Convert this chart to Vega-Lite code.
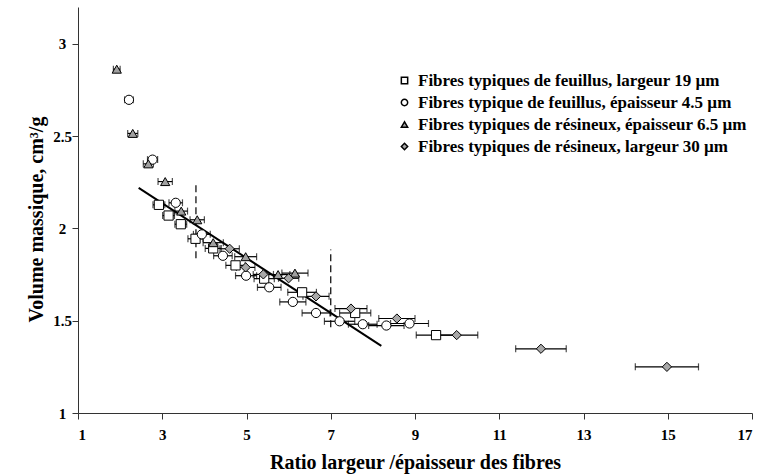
{
  "$schema": "https://vega.github.io/schema/vega-lite/v6.json",
  "width": 674,
  "height": 406,
  "autosize": {"type": "none"},
  "padding": {"left": 78, "top": 7, "right": 7, "bottom": 62},
  "background": "white",
  "config": {
    "view": {"stroke": null},
    "font": "Liberation Serif",
    "axis": {"grid": false, "domainColor": "#333", "tickColor": "#333", "labelFont": "Liberation Serif", "labelFontWeight": "bold", "labelFontSize": 15, "labelColor": "black", "titleFont": "Liberation Serif", "titleFontWeight": "bold", "titleFontSize": 20, "titleColor": "black", "tickSize": 6}
  },
  "datasets": {
    "pts": [
      {"serie": "Fibres typiques de feuillus, largeur 19 µm", "ratio": 2.92, "volume": 2.128, "lo": 2.78, "hi": 3.06},
      {"serie": "Fibres typiques de feuillus, largeur 19 µm", "ratio": 3.15, "volume": 2.07, "lo": 3.01, "hi": 3.29},
      {"serie": "Fibres typiques de feuillus, largeur 19 µm", "ratio": 3.44, "volume": 2.023, "lo": 3.30, "hi": 3.58},
      {"serie": "Fibres typiques de feuillus, largeur 19 µm", "ratio": 3.79, "volume": 1.944, "lo": 3.61, "hi": 3.97},
      {"serie": "Fibres typiques de feuillus, largeur 19 µm", "ratio": 4.21, "volume": 1.892, "lo": 4.02, "hi": 4.40},
      {"serie": "Fibres typiques de feuillus, largeur 19 µm", "ratio": 4.74, "volume": 1.80, "lo": 4.51, "hi": 4.97},
      {"serie": "Fibres typiques de feuillus, largeur 19 µm", "ratio": 5.42, "volume": 1.728, "lo": 5.18, "hi": 5.66},
      {"serie": "Fibres typiques de feuillus, largeur 19 µm", "ratio": 6.32, "volume": 1.654, "lo": 5.98, "hi": 6.66},
      {"serie": "Fibres typiques de feuillus, largeur 19 µm", "ratio": 7.58, "volume": 1.542, "lo": 7.21, "hi": 7.95},
      {"serie": "Fibres typiques de feuillus, largeur 19 µm", "ratio": 9.50, "volume": 1.422, "lo": 9.03, "hi": 9.97},
      {"serie": "Fibres typique de feuillus, épaisseur 4.5 µm", "ratio": 2.21, "volume": 2.697, "lo": 2.11, "hi": 2.31},
      {"serie": "Fibres typique de feuillus, épaisseur 4.5 µm", "ratio": 2.77, "volume": 2.373, "lo": 2.65, "hi": 2.89},
      {"serie": "Fibres typique de feuillus, épaisseur 4.5 µm", "ratio": 3.32, "volume": 2.139, "lo": 3.16, "hi": 3.48},
      {"serie": "Fibres typique de feuillus, épaisseur 4.5 µm", "ratio": 3.94, "volume": 1.968, "lo": 3.74, "hi": 4.14},
      {"serie": "Fibres typique de feuillus, épaisseur 4.5 µm", "ratio": 4.44, "volume": 1.852, "lo": 4.22, "hi": 4.66},
      {"serie": "Fibres typique de feuillus, épaisseur 4.5 µm", "ratio": 4.99, "volume": 1.744, "lo": 4.74, "hi": 5.24},
      {"serie": "Fibres typique de feuillus, épaisseur 4.5 µm", "ratio": 5.54, "volume": 1.681, "lo": 5.26, "hi": 5.82},
      {"serie": "Fibres typique de feuillus, épaisseur 4.5 µm", "ratio": 6.10, "volume": 1.602, "lo": 5.79, "hi": 6.41},
      {"serie": "Fibres typique de feuillus, épaisseur 4.5 µm", "ratio": 6.65, "volume": 1.542, "lo": 6.32, "hi": 6.98},
      {"serie": "Fibres typique de feuillus, épaisseur 4.5 µm", "ratio": 7.21, "volume": 1.497, "lo": 6.85, "hi": 7.57},
      {"serie": "Fibres typique de feuillus, épaisseur 4.5 µm", "ratio": 7.76, "volume": 1.481, "lo": 7.42, "hi": 8.10},
      {"serie": "Fibres typique de feuillus, épaisseur 4.5 µm", "ratio": 8.32, "volume": 1.474, "lo": 7.90, "hi": 8.74},
      {"serie": "Fibres typique de feuillus, épaisseur 4.5 µm", "ratio": 8.87, "volume": 1.485, "lo": 8.42, "hi": 9.32},
      {"serie": "Fibres typiques de résineux, épaisseur 6.5 µm", "ratio": 1.92, "volume": 2.863, "lo": 1.84, "hi": 2.00},
      {"serie": "Fibres typiques de résineux, épaisseur 6.5 µm", "ratio": 2.30, "volume": 2.515, "lo": 2.18, "hi": 2.42},
      {"serie": "Fibres typiques de résineux, épaisseur 6.5 µm", "ratio": 2.67, "volume": 2.35, "lo": 2.55, "hi": 2.79},
      {"serie": "Fibres typiques de résineux, épaisseur 6.5 µm", "ratio": 3.07, "volume": 2.254, "lo": 2.90, "hi": 3.24},
      {"serie": "Fibres typiques de résineux, épaisseur 6.5 µm", "ratio": 3.45, "volume": 2.094, "lo": 3.30, "hi": 3.60},
      {"serie": "Fibres typiques de résineux, épaisseur 6.5 µm", "ratio": 3.83, "volume": 2.047, "lo": 3.66, "hi": 4.00},
      {"serie": "Fibres typiques de résineux, épaisseur 6.5 µm", "ratio": 4.21, "volume": 1.923, "lo": 3.97, "hi": 4.45},
      {"serie": "Fibres typiques de résineux, épaisseur 6.5 µm", "ratio": 4.98, "volume": 1.847, "lo": 4.72, "hi": 5.24},
      {"serie": "Fibres typiques de résineux, épaisseur 6.5 µm", "ratio": 5.75, "volume": 1.75, "lo": 5.47, "hi": 6.03},
      {"serie": "Fibres typiques de résineux, épaisseur 6.5 µm", "ratio": 6.15, "volume": 1.758, "lo": 5.84, "hi": 6.46},
      {"serie": "Fibres typiques de résineux, largeur 30 µm", "ratio": 4.60, "volume": 1.890, "lo": 4.37, "hi": 4.83},
      {"serie": "Fibres typiques de résineux, largeur 30 µm", "ratio": 4.98, "volume": 1.789, "lo": 4.76, "hi": 5.20},
      {"serie": "Fibres typiques de résineux, largeur 30 µm", "ratio": 5.40, "volume": 1.751, "lo": 5.16, "hi": 5.64},
      {"serie": "Fibres typiques de résineux, largeur 30 µm", "ratio": 6.00, "volume": 1.73, "lo": 5.76, "hi": 6.24},
      {"serie": "Fibres typiques de résineux, largeur 30 µm", "ratio": 6.65, "volume": 1.632, "lo": 6.34, "hi": 6.96},
      {"serie": "Fibres typiques de résineux, largeur 30 µm", "ratio": 7.48, "volume": 1.566, "lo": 7.10, "hi": 7.86},
      {"serie": "Fibres typiques de résineux, largeur 30 µm", "ratio": 8.57, "volume": 1.512, "lo": 8.14, "hi": 9.00},
      {"serie": "Fibres typiques de résineux, largeur 30 µm", "ratio": 9.99, "volume": 1.422, "lo": 9.49, "hi": 10.49},
      {"serie": "Fibres typiques de résineux, largeur 30 µm", "ratio": 11.99, "volume": 1.348, "lo": 11.39, "hi": 12.59},
      {"serie": "Fibres typiques de résineux, largeur 30 µm", "ratio": 14.98, "volume": 1.25, "lo": 14.23, "hi": 15.73}
    ],
    "fit": [
      {"ratio": 2.44, "volume": 2.22},
      {"ratio": 8.2, "volume": 1.364}
    ],
    "limits": [
      {"ratio": 3.8, "ylo": 1.838, "yhi": 2.254},
      {"ratio": 7.0, "ylo": 1.465, "yhi": 1.886}
    ]
  },
  "layer": [
    {
      "data": {"name": "limits"},
      "mark": {"type": "rule", "color": "black", "strokeWidth": 1.2, "strokeDash": [7, 4]},
      "encoding": {
        "x": {"field": "ratio", "type": "quantitative", "title": "Ratio largeur /épaisseur des fibres", "scale": {"domain": [1, 17], "nice": false}},
        "y": {"field": "ylo", "type": "quantitative", "title": "Volume massique, cm³/g", "scale": {"domain": [1, 3.2], "nice": false}},
        "y2": {"field": "yhi"}
      }
    },
    {
      "data": {"name": "fit"},
      "mark": {"type": "line", "color": "black", "strokeWidth": 2},
      "encoding": {
        "x": {"field": "ratio", "type": "quantitative", "title": "Ratio largeur /épaisseur des fibres"},
        "y": {"field": "volume", "type": "quantitative", "title": "Volume massique, cm³/g"}
      }
    },
    {
      "data": {"name": "pts"},
      "mark": {"type": "errorbar", "color": "black", "ticks": {"size": 7, "thickness": 1.2}, "rule": {"strokeWidth": 1.2}},
      "encoding": {
        "x": {"field": "lo", "type": "quantitative", "title": "Ratio largeur /épaisseur des fibres"},
        "x2": {"field": "hi"},
        "y": {"field": "volume", "type": "quantitative", "title": "Volume massique, cm³/g"}
      }
    },
    {
      "data": {"name": "pts"},
      "mark": {"type": "point", "filled": true, "stroke": "black", "strokeWidth": 1, "size": 85, "opacity": 1},
      "encoding": {
        "x": {
          "field": "ratio", "type": "quantitative", "title": "Ratio largeur /épaisseur des fibres",
          "axis": {"values": [1, 3, 5, 7, 9, 11, 13, 15, 17], "labelPadding": 8, "titleBaseline": "alphabetic", "titleY": 55}
        },
        "y": {
          "field": "volume", "type": "quantitative", "title": "Volume massique, cm³/g",
          "axis": {"values": [1, 1.5, 2, 2.5, 3], "format": "~g", "labelAlign": "center", "labelPadding": 10, "titleX": -42, "titleY": 212, "titleBaseline": "middle", "titleAngle": -90}
        },
        "shape": {
          "field": "serie", "type": "nominal",
          "scale": {"domain": ["Fibres typiques de feuillus, largeur 19 µm", "Fibres typique de feuillus, épaisseur 4.5 µm", "Fibres typiques de résineux, épaisseur 6.5 µm", "Fibres typiques de résineux, largeur 30 µm"], "range": ["square", "circle", "triangle-up", "diamond"]},
          "legend": {"title": null, "orient": "none", "legendX": 318, "legendY": 65, "labelFont": "Liberation Serif", "labelFontWeight": "bold", "labelFontSize": 17, "labelColor": "black", "labelLimit": 500, "symbolSize": 40, "rowPadding": 4, "labelOffset": 5, "encode": {"symbols": {"update": {"stroke": {"value": "black"}, "strokeWidth": {"value": 1}}}}}
        },
        "fill": {
          "field": "serie", "type": "nominal",
          "scale": {"domain": ["Fibres typiques de feuillus, largeur 19 µm", "Fibres typique de feuillus, épaisseur 4.5 µm", "Fibres typiques de résineux, épaisseur 6.5 µm", "Fibres typiques de résineux, largeur 30 µm"], "range": ["white", "white", "#a0a0a0", "#a8a8a8"]},
          "legend": {"title": null, "orient": "none", "legendX": 318, "legendY": 65, "labelFont": "Liberation Serif", "labelFontWeight": "bold", "labelFontSize": 17, "labelColor": "black", "labelLimit": 500, "symbolSize": 40, "rowPadding": 4, "labelOffset": 5, "encode": {"symbols": {"update": {"stroke": {"value": "black"}, "strokeWidth": {"value": 1}}}}}
        }
      }
    }
  ]
}
